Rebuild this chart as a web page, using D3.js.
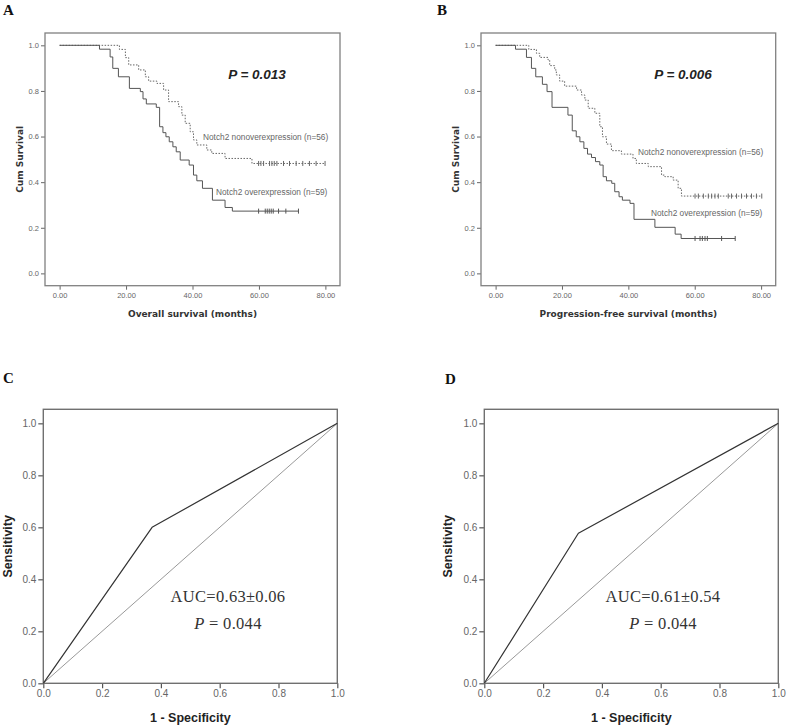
<!DOCTYPE html>
<html>
<head>
<meta charset="utf-8">
<script src="https://cdn.jsdelivr.net/npm/d3@7"></script>
<style>
  body { margin: 0; background: #fff; }
  svg { display: block; }
</style>
</head>
<body>
<script>
// ---------------- DATA ----------------
// Panel A: overall survival (months)
const osOverTimes = [0, 12.0, 15.2, 16.0, 17.7, 21.0, 24.3, 25.1, 26.1, 29.1, 30.1, 31.1, 32.0, 33.0, 34.1, 35.1, 36.3, 39.0, 40.3, 41.3, 43.0, 46.0, 49.8, 52.0];
const osOverSurv  = [1.0, 0.983, 0.949, 0.899, 0.862, 0.811, 0.797, 0.765, 0.743, 0.728, 0.643, 0.617, 0.599, 0.577, 0.555, 0.533, 0.497, 0.475, 0.431, 0.406, 0.373, 0.321, 0.289, 0.273];
const osOverEnd = 71.9;
const osOverCensor = [59.9, 61.9, 62.5, 63.1, 63.7, 64.3, 65.9, 68.1, 71.9];

const osNonTimes = [0, 18.0, 19.8, 20.8, 23.8, 25.8, 26.8, 29.3, 31.3, 32.8, 35.8, 36.8, 37.8, 39.3, 40.3, 41.3, 44.3, 45.8, 49.8, 57.9];
const osNonSurv  = [1.0, 0.982, 0.946, 0.914, 0.892, 0.862, 0.843, 0.833, 0.804, 0.753, 0.731, 0.694, 0.658, 0.621, 0.585, 0.563, 0.541, 0.526, 0.504, 0.482];
const osNonEnd = 79.9;
const osNonCensor = [59.9, 60.6, 61.4, 63.2, 63.9, 64.6, 65.4, 67.4, 69.2, 71.2, 73.2, 75.2, 77.2, 79.9];

// Panel B: progression-free survival (months)
const pfsOverTimes = [0, 6.0, 9.3, 10.8, 12.1, 14.1, 15.5, 17.0, 21.8, 23.1, 24.3, 25.4, 26.6, 27.7, 28.9, 30.1, 31.4, 32.4, 33.4, 35.0, 35.9, 37.2, 38.2, 40.5, 41.7, 48.0, 54.1, 55.9];
const pfsOverSurv  = [1.0, 0.983, 0.947, 0.899, 0.862, 0.829, 0.797, 0.728, 0.694, 0.625, 0.599, 0.577, 0.548, 0.523, 0.508, 0.490, 0.475, 0.424, 0.406, 0.395, 0.358, 0.336, 0.321, 0.307, 0.237, 0.202, 0.172, 0.153];
const pfsOverEnd = 72.2;
const pfsOverCensor = [60.1, 61.6, 62.3, 63.1, 63.8, 68.1, 72.2];

const pfsNonTimes = [0, 10.0, 12.3, 13.3, 15.8, 16.3, 17.8, 18.3, 19.3, 20.8, 24.4, 25.9, 26.9, 27.9, 29.9, 31.4, 32.2, 33.4, 34.9, 37.9, 41.4, 42.4, 46.0, 50.0, 51.0, 53.5, 55.0, 56.0];
const pfsNonSurv  = [1.0, 0.982, 0.965, 0.947, 0.936, 0.911, 0.892, 0.870, 0.843, 0.821, 0.804, 0.782, 0.760, 0.724, 0.702, 0.643, 0.599, 0.567, 0.538, 0.523, 0.504, 0.482, 0.468, 0.431, 0.424, 0.409, 0.373, 0.339];
const pfsNonEnd = 80.2;
const pfsNonCensor = [60.1, 61.1, 62.6, 64.1, 65.1, 66.1, 67.1, 70.1, 71.1, 72.6, 74.1, 75.6, 77.1, 78.6, 80.2];

const kmXTicks = [0, 20, 40, 60, 80];
const kmYTicks = [0, 0.2, 0.4, 0.6, 0.8, 1.0];

// Panels C, D: ROC curves (1 - specificity, sensitivity)
const rocC_fpr = [0, 0.37, 1.0];
const rocC_tpr = [0, 0.60, 1.0];
const rocD_fpr = [0, 0.32, 1.0];
const rocD_tpr = [0, 0.577, 1.0];
const refLine = [0, 1];
const rocTicks = [0, 0.2, 0.4, 0.6, 0.8, 1.0];

// ---------------- DRAW ----------------
const svg = d3.select("body").append("svg").attr("width", 787).attr("height", 727);
svg.append("rect").attr("width", 787).attr("height", 727).attr("fill", "#fff");

function panelLetter(txt, x, y) {
  svg.append("text").attr("x", x).attr("y", y)
    .attr("font-family", "'Liberation Serif', 'Times New Roman', serif")
    .attr("font-weight", "bold").attr("font-size", 15).attr("fill", "#111")
    .text(txt);
}

function kmPanel(cfg) {
  const g = svg.append("g");
  const x = d3.scaleLinear().domain([-4.4, 84.4]).range([cfg.left, cfg.right]);
  const y = d3.scaleLinear().domain([-0.054, 1.054]).range([cfg.bottom, cfg.top]);

  const xAxis = d3.axisBottom(x).tickValues(kmXTicks).tickFormat(d3.format(".2f")).tickSize(4).tickSizeOuter(0).tickPadding(3);
  const yAxis = d3.axisLeft(y).tickValues(kmYTicks).tickFormat(d3.format(".1f")).tickSize(4).tickSizeOuter(0).tickPadding(2);
  const gx = g.append("g").attr("transform", `translate(0,${cfg.bottom})`).call(xAxis);
  const gy = g.append("g").attr("transform", `translate(${cfg.left},0)`).call(yAxis);
  [gx, gy].forEach(a => {
    a.select(".domain").remove();
    a.selectAll(".tick line").attr("stroke", "#666").attr("stroke-width", 1);
    a.selectAll(".tick text").attr("fill", "#666").attr("font-size", 7.5)
      .attr("font-family", "'Liberation Sans', Arial, sans-serif");
  });

  g.append("rect").attr("x", cfg.left).attr("y", cfg.top)
    .attr("width", cfg.right - cfg.left).attr("height", cfg.bottom - cfg.top)
    .attr("fill", "none").attr("stroke", "#808080").attr("stroke-width", 1.3);

  const line = d3.line().x(d => x(d[0])).y(d => y(d[1])).curve(d3.curveStepAfter);

  cfg.series.forEach(s => {
    const pts = s.times.map((t, i) => [t, s.surv[i]]);
    pts.push([s.end, s.surv[s.surv.length - 1]]);
    g.append("path").attr("d", line(pts)).attr("fill", "none")
      .attr("stroke", s.color).attr("stroke-width", 1)
      .attr("stroke-dasharray", s.dash || null);
    const last = s.surv[s.surv.length - 1];
    g.selectAll(null).data(s.censor).enter().append("line")
      .attr("x1", d => x(d)).attr("x2", d => x(d))
      .attr("y1", y(last) - 2.5).attr("y2", y(last) + 2.5)
      .attr("stroke", s.color).attr("stroke-width", 1);
    g.append("text").attr("x", s.labelX).attr("y", s.labelY)
      .attr("dominant-baseline", "middle")
      .attr("font-family", "'Liberation Sans', Arial, sans-serif")
      .attr("font-size", 8.3).attr("fill", "#666").text(s.label);
  });

  g.append("text").attr("x", (cfg.left + cfg.right) / 2).attr("y", 317)
    .attr("text-anchor", "middle")
    .attr("font-family", "'DejaVu Sans', Verdana, sans-serif")
    .attr("font-weight", "bold").attr("font-size", 9).attr("fill", "#333")
    .text(cfg.xTitle);
  g.append("text")
    .attr("transform", `translate(${cfg.yTitleX},${(cfg.top + cfg.bottom) / 2}) rotate(-90)`)
    .attr("text-anchor", "middle").attr("dominant-baseline", "middle")
    .attr("font-family", "'DejaVu Sans', Verdana, sans-serif")
    .attr("font-weight", "bold").attr("font-size", 9).attr("fill", "#333")
    .text("Cum Survival");

  g.append("text").attr("x", cfg.pX).attr("y", 75)
    .attr("text-anchor", "middle").attr("dominant-baseline", "middle")
    .attr("font-family", "'Liberation Sans', Arial, sans-serif")
    .attr("font-weight", "bold").attr("font-style", "italic")
    .attr("font-size", 13.5).attr("fill", "#222").text(cfg.pText);
}

function rocPanel(cfg) {
  const g = svg.append("g");
  const x = d3.scaleLinear().domain([0, 1]).range([cfg.left, cfg.right]);
  const y = d3.scaleLinear().domain([0, 1.054]).range([cfg.bottom, cfg.top]);

  const xAxis = d3.axisBottom(x).tickValues(rocTicks).tickFormat(d3.format(".1f")).tickSize(5).tickSizeOuter(0).tickPadding(2);
  const yAxis = d3.axisLeft(y).tickValues(rocTicks).tickFormat(d3.format(".1f")).tickSize(5).tickSizeOuter(0).tickPadding(2);
  const gx = g.append("g").attr("transform", `translate(0,${cfg.bottom})`).call(xAxis);
  const gy = g.append("g").attr("transform", `translate(${cfg.left},0)`).call(yAxis);
  [gx, gy].forEach(a => {
    a.select(".domain").remove();
    a.selectAll(".tick line").attr("stroke", "#555").attr("stroke-width", 1.2);
    a.selectAll(".tick text").attr("fill", "#666").attr("font-size", 10)
      .attr("font-family", "'Liberation Sans', Arial, sans-serif");
  });

  g.append("rect").attr("x", cfg.left).attr("y", cfg.top)
    .attr("width", cfg.right - cfg.left).attr("height", cfg.bottom - cfg.top)
    .attr("fill", "none").attr("stroke", "#707070").attr("stroke-width", 1.4);

  const line = d3.line().x(d => x(d[0])).y(d => y(d[1]));
  g.append("path").attr("d", line(refLine.map(v => [v, v])))
    .attr("fill", "none").attr("stroke", "#999").attr("stroke-width", 1);
  g.append("path").attr("d", line(cfg.fpr.map((v, i) => [v, cfg.tpr[i]])))
    .attr("fill", "none").attr("stroke", "#333").attr("stroke-width", 1.2)
    .attr("stroke-linejoin", "round");

  g.append("text").attr("x", (cfg.left + cfg.right) / 2).attr("y", 722)
    .attr("text-anchor", "middle")
    .attr("font-family", "'Liberation Sans', Arial, sans-serif")
    .attr("font-weight", "bold").attr("font-size", 12.5).attr("fill", "#222")
    .text("1 - Specificity");
  g.append("text")
    .attr("transform", `translate(${cfg.yTitleX},${(cfg.top + cfg.bottom) / 2}) rotate(-90)`)
    .attr("text-anchor", "middle").attr("dominant-baseline", "middle")
    .attr("font-family", "'Liberation Sans', Arial, sans-serif")
    .attr("font-weight", "bold").attr("font-size", 12.5).attr("fill", "#222")
    .text("Sensitivity");

  g.append("text").attr("x", cfg.textX).attr("y", 598)
    .attr("text-anchor", "middle").attr("dominant-baseline", "middle")
    .attr("font-family", "'Liberation Serif', 'Times New Roman', serif")
    .attr("font-size", 16.5).attr("fill", "#333").attr("letter-spacing", 0.3)
    .text(cfg.auc);
  const p = g.append("text").attr("x", cfg.textX).attr("y", 625)
    .attr("text-anchor", "middle").attr("dominant-baseline", "middle")
    .attr("font-family", "'Liberation Serif', 'Times New Roman', serif")
    .attr("font-size", 16.5).attr("fill", "#333").attr("letter-spacing", 0.3);
  p.append("tspan").attr("font-style", "italic").text("P");
  p.append("tspan").text(" = 0.044");
}

panelLetter("A", 3, 15);
panelLetter("B", 437, 15);
panelLetter("C", 3, 383);
panelLetter("D", 445, 384);

kmPanel({
  left: 45, right: 340, top: 33, bottom: 285.7, yTitleX: 20, pX: 257, pText: "P = 0.013",
  xTitle: "Overall survival (months)",
  series: [
    { times: osNonTimes, surv: osNonSurv, end: osNonEnd, censor: osNonCensor, color: "#666", dash: "1.5,1.5",
      label: "Notch2 nonoverexpression (n=56)", labelX: 203, labelY: 138 },
    { times: osOverTimes, surv: osOverSurv, end: osOverEnd, censor: osOverCensor, color: "#555",
      label: "Notch2 overexpression (n=59)", labelX: 216, labelY: 193 }
  ]
});

kmPanel({
  left: 481, right: 775.7, top: 33, bottom: 285.7, yTitleX: 456, pX: 683, pText: "P = 0.006",
  xTitle: "Progression-free survival (months)",
  series: [
    { times: pfsNonTimes, surv: pfsNonSurv, end: pfsNonEnd, censor: pfsNonCensor, color: "#666", dash: "1.5,1.5",
      label: "Notch2 nonoverexpression (n=56)", labelX: 638, labelY: 153 },
    { times: pfsOverTimes, surv: pfsOverSurv, end: pfsOverEnd, censor: pfsOverCensor, color: "#555",
      label: "Notch2 overexpression (n=59)", labelX: 651, labelY: 214 }
  ]
});

rocPanel({ left: 43.3, right: 337.3, top: 409.3, bottom: 683.3, yTitleX: 9, textX: 228,
  fpr: rocC_fpr, tpr: rocC_tpr, auc: "AUC=0.63±0.06" });
rocPanel({ left: 484.3, right: 778.3, top: 409.3, bottom: 683.3, yTitleX: 449, textX: 663,
  fpr: rocD_fpr, tpr: rocD_tpr, auc: "AUC=0.61±0.54" });
</script>
</body>
</html>
